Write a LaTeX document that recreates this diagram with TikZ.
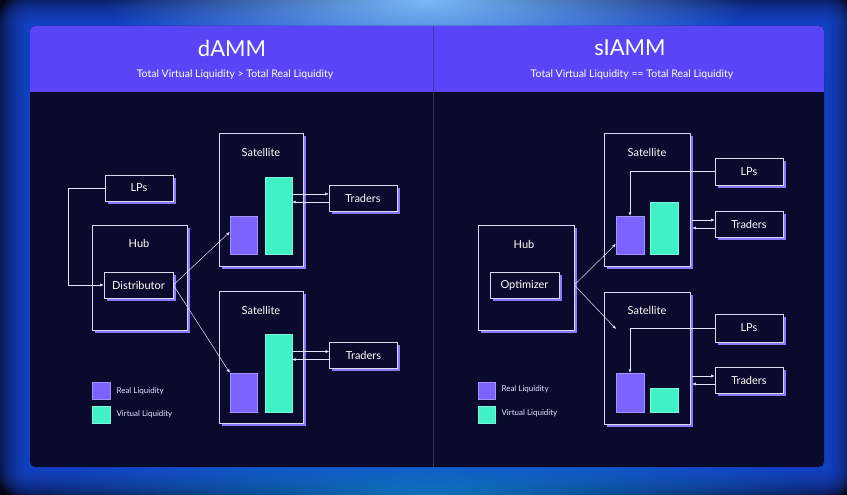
\documentclass[tikz,border=0pt]{standalone}
\usepackage{fontspec}
\setmainfont{Lato}
\usetikzlibrary{arrows.meta,shadows,fadings}

\definecolor{bgdark}{HTML}{040618}
\definecolor{glowblue}{HTML}{1A50E8}
\definecolor{glowtop}{HTML}{7ABAF8}
\definecolor{header}{HTML}{5A45F6}
\definecolor{panel}{HTML}{0A0A2C}
\definecolor{realliq}{HTML}{7B63FF}
\definecolor{virtliq}{HTML}{40F2C6}
\definecolor{boxline}{HTML}{D8D8EE}
\definecolor{boxshadow}{HTML}{8A78FF}

\tikzfading[name=glow, inner color=transparent!0, outer color=transparent!100]

\begin{document}
\begin{tikzpicture}[x=1pt,y=-1pt]

			\tikzstyle{box}=[fill=panel,draw=boxline,line width=0.6pt,
				copy shadow={shadow xshift=2.5pt,shadow yshift=-2.5pt,
					fill=boxshadow,draw=none},
				text=white,font=\fontsize{11}{13}\selectfont,
				inner sep=0pt]
			\tikzstyle{actor}=[box,minimum width=68pt,minimum height=26pt]
			\tikzstyle{lbl}=[text=white,font=\fontsize{11}{13}\selectfont]
			\tikzstyle{real}=[fill=realliq,draw=realliq!70!white,
				line width=0.4pt,inner sep=0pt,minimum width=27pt]
			\tikzstyle{virt}=[fill=virtliq,draw=virtliq!70!white,
				line width=0.4pt,inner sep=0pt,minimum width=27pt]
			\tikzstyle{legtext}=[text=white!90!blue,anchor=west,
				font=\fontsize{8}{9}\selectfont]
			\tikzstyle{flow}=[draw=white!90!blue,line width=0.5pt,
				-{Latex[length=3.5pt,width=3pt]}]

			\useasboundingbox (0,0) rectangle (847,495);

			% backdrop glow
			\fill[bgdark] (0,0) rectangle (847,495);
			\foreach \d in {34,32,...,2}
				\fill[glowblue,opacity=0.1,rounded corners=\d pt]
					(30-\d,26-\d) rectangle (824+\d,467+\d);
			\fill[glowtop,path fading=glow] (427,0) ellipse (320 and 90);
			\fill[cyan!70!blue,path fading=glow,opacity=0.8] (430,495) ellipse (400 and 60);

			% panel and header
			\fill[panel,rounded corners=5pt] (30,26) rectangle (824,467);
			\fill[header,rounded corners=5pt] (30,26) rectangle (824,80);
			\fill[header] (30,60) rectangle (824,92);
			\draw[header!75!black,line width=0.6pt] (433,26) -- (433,92);
			\draw[white!18!panel,line width=0.6pt] (433,92) -- (433,467);

			\node[text=white,font=\fontsize{22}{26}\selectfont] (titleA) at (232,48) {dAMM};
			\node[text=white,font=\fontsize{10.5}{12}\selectfont] (subA) at (235,75)
				{Total Virtual Liquidity > Total Real Liquidity};
			\node[text=white,font=\fontsize{22}{26}\selectfont] (titleB) at (630,48) {sIAMM};
			\node[text=white,font=\fontsize{10.5}{12}\selectfont] (subB) at (632,75)
				{Total Virtual Liquidity == Total Real Liquidity};

			% dAMM side
			\node[actor]	(lpsA)	at (139,188)	{LPs};
			\node[box,minimum width=95pt,minimum height=105pt]	(hubA)	at (139.5,277.5)	{};
			\node[lbl]	(hubAt)	at (139,243)	{Hub};
			\node[actor,minimum width=69pt]	(distA)	at (138.5,285)	{Distributor};

			\node[box,minimum width=84pt,minimum height=133pt]	(satA1)	at (261,199.5)	{};
			\node[lbl]	(satA1t)	at (261,152)	{Satellite};
			\node[real,minimum height=38pt]	(realA1)	at (243.5,235)	{};
			\node[virt,minimum height=77pt]	(virtA1)	at (278.5,215.5)	{};
			\node[actor]	(tradA1)	at (363,198)	{Traders};

			\node[box,minimum width=84pt,minimum height=132pt]	(satA2)	at (261,357)	{};
			\node[lbl]	(satA2t)	at (261,310)	{Satellite};
			\node[real,minimum height=39pt]	(realA2)	at (243.5,392.5)	{};
			\node[virt,minimum height=78pt]	(virtA2)	at (278.5,373)	{};
			\node[actor]	(tradA2)	at (363.5,355.5)	{Traders};

			\draw[flow] (lpsA.west) -- +(-36,0) |- (distA.west);
			\draw[flow] (distA.east) -- ([yshift=3pt]realA1.west);
			\draw[flow] (distA.east) -- (realA2.north west);
			\draw[flow] ([yshift=4pt]tradA1.west -| virtA1.east) -- ([yshift=4pt]tradA1.west);
			\draw[flow] ([yshift=-4pt]tradA1.west) -- ([yshift=-4pt]tradA1.west -| virtA1.east);
			\draw[flow] ([yshift=4pt]tradA2.west -| virtA2.east) -- ([yshift=4pt]tradA2.west);
			\draw[flow] ([yshift=-4pt]tradA2.west) -- ([yshift=-4pt]tradA2.west -| virtA2.east);

			\node[real,minimum width=18pt,minimum height=17pt]	(legRealA)	at (101,390.5)	{};
			\node[legtext]	(legRealAt)	at (113,391)	{Real Liquidity};
			\node[virt,minimum width=18pt,minimum height=17pt]	(legVirtA)	at (101,414.5)	{};
			\node[legtext]	(legVirtAt)	at (113,414)	{Virtual Liquidity};

			% sIAMM side
			\node[box,minimum width=96pt,minimum height=105pt]	(hubB)	at (526,277.5)	{};
			\node[lbl]	(hubBt)	at (524,244)	{Hub};
			\node[actor,minimum width=69pt]	(optB)	at (524.5,285)	{Optimizer};

			\node[box,minimum width=86pt,minimum height=133pt]	(satB1)	at (647,199.5)	{};
			\node[lbl]	(satB1t)	at (647,152)	{Satellite};
			\node[real,minimum width=28pt,minimum height=38pt]	(realB1)	at (630,235)	{};
			\node[virt,minimum width=28pt,minimum height=52pt]	(virtB1)	at (664,228)	{};
			\node[actor,minimum height=27pt]	(lpsB1)	at (749,171.5)	{LPs};
			\node[actor]	(tradB1)	at (749,224)	{Traders};

			\node[box,minimum width=86pt,minimum height=132pt]	(satB2)	at (647,358)	{};
			\node[lbl]	(satB2t)	at (647,310)	{Satellite};
			\node[real,minimum width=28pt,minimum height=39pt]	(realB2)	at (630,392.5)	{};
			\node[virt,minimum width=28pt,minimum height=24pt]	(virtB2)	at (664,400)	{};
			\node[actor,minimum height=28pt]	(lpsB2)	at (749,328)	{LPs};
			\node[actor]	(tradB2)	at (749,380)	{Traders};

			\coordinate (optEnd) at (616,329);
			\draw[flow] (optB.east -| hubB.east) -- ([yshift=-9pt]realB1.west);
			\draw[flow] (optB.east -| hubB.east) -- (optEnd);
			\draw[flow] (lpsB1.west) -| (realB1.north);
			\draw[flow] (lpsB2.west) -| (realB2.north);
			\draw[flow] ([xshift=2pt,yshift=4pt]tradB1.west -| satB1.east) -- ([yshift=4pt]tradB1.west);
			\draw[flow] ([yshift=-4pt]tradB1.west) -- ([xshift=2pt,yshift=-4pt]tradB1.west -| satB1.east);
			\draw[flow] ([xshift=2pt,yshift=4pt]tradB2.west -| satB2.east) -- ([yshift=4pt]tradB2.west);
			\draw[flow] ([yshift=-4pt]tradB2.west) -- ([xshift=2pt,yshift=-4pt]tradB2.west -| satB2.east);

			\node[real,minimum width=17pt,minimum height=17pt]	(legRealB)	at (486.5,390.5)	{};
			\node[legtext]	(legRealBt)	at (498,389)	{Real Liquidity};
			\node[virt,minimum width=17pt,minimum height=17pt]	(legVirtB)	at (486.5,414.5)	{};
			\node[legtext]	(legVirtBt)	at (498,413)	{Virtual Liquidity};

\end{tikzpicture}
\end{document}
